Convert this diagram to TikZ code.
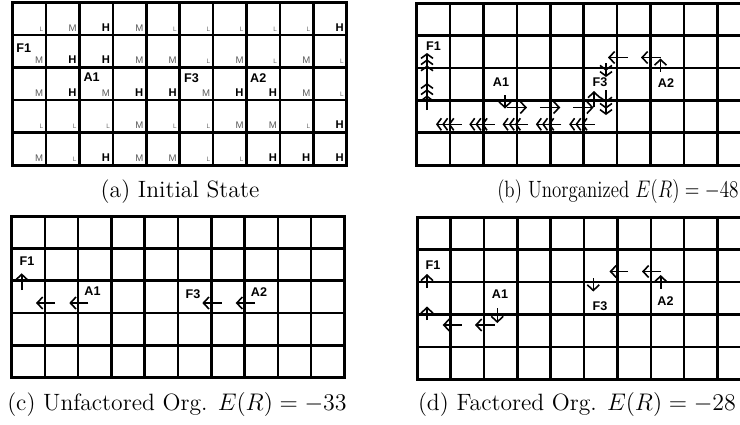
\documentclass[tikz,border=0pt]{standalone}
\usepackage{fontspec}
\newfontfamily\labfont{Liberation Sans}
\usetikzlibrary{arrows.meta}
\tikzset{
  gridline/.style={line width=1.25pt, black},
  gridframe/.style={line width=1.5pt, black, line join=miter},
  agentlabel/.style={font=\labfont\bfseries\fontsize{6.3}{7}\selectfont, inner sep=0pt},
  cellH/.style={font=\labfont\bfseries\fontsize{5.6}{6}\selectfont, inner sep=0pt, anchor=south east},
  cellM/.style={font=\labfont\fontsize{4.8}{5}\selectfont, text=black!65, inner sep=0pt, anchor=south east},
  cellL/.style={font=\labfont\fontsize{3.2}{4}\selectfont, text=black!60, inner sep=0pt, anchor=south east},
  mv/.style={line width=0.8pt, -{Straight Barb[length=2.8pt,width=6pt]}},
  mvtwo/.style={line width=0.8pt, -{Straight Barb[length=2.2pt,width=6pt] Straight Barb[length=2.2pt,width=6pt]}},
  mvthree/.style={line width=0.8pt, -{Straight Barb[length=2.2pt,width=6pt] Straight Barb[length=2.2pt,width=6pt] Straight Barb[length=2.2pt,width=6pt]}},
  captext/.style={font=\fontsize{11.8}{14}\selectfont, inner sep=0pt, anchor=base},
}
\newcommand{\drawgrid}[4]{%
  \foreach \i in {1,...,9} \draw[gridline] ({#1+#3*\i},#2) -- ({#1+#3*\i},{#2+5*#4});
  \foreach \j in {1,...,4} \draw[gridline] (#1,{#2+#4*\j}) -- ({#1+10*#3},{#2+#4*\j});
  \draw[gridframe] (#1,#2) rectangle ({#1+10*#3},{#2+5*#4});
}
\newcommand{\cellrow}[2]{%
  \foreach \t [count=\c] in {#2}
    \node[cell\t] (a-#1-\c) at ({12.7+33.4*\c-2.6},{2.7+32.46*#1-3.4}) {\t};
}
\begin{document}
\begin{tikzpicture}[x=0.5pt,y=-0.5pt]
\useasboundingbox (0,0) rectangle (740,424);
\clip (0,0) rectangle (740,424);

% ---------- (a) initial state ----------
\drawgrid{12.7}{2.7}{33.4}{32.46}
\cellrow{1}{L,M,H,M,L,L,L,L,L,H}
\cellrow{2}{M,H,H,M,M,L,M,L,M,L}
\cellrow{3}{M,H,M,H,H,M,H,H,M,L}
\cellrow{4}{L,L,L,M,L,L,M,M,L,H}
\cellrow{5}{M,L,H,M,M,L,L,H,H,H}
\node[agentlabel] (aF1) at (23.7,48) {F1};
\node[agentlabel] (aA1) at (91.6,77.2) {A1};
\node[agentlabel] (aF3) at (191.6,78.5) {F3};
\node[agentlabel] (aA2) at (258.3,77.8) {A2};
\node[captext] (capa) at (180,197) {(a) Initial State};

% ---------- (b) unorganized ----------
\drawgrid{416.7}{3.3}{33.4}{32.34}
\node[agentlabel] (bF1) at (433.5,46) {F1};
\node[agentlabel] (bA1) at (501,82.5) {A1};
\node[agentlabel] (bF3) at (600,82.5) {F3};
\node[agentlabel] (bA2) at (666,83) {A2};
\draw[mvthree] (427,110) -- (427,83);
\draw[mvthree] (427,97) -- (427,53);
\foreach \k in {0,...,4}
  \draw[mvthree] ({461.5+33.3*\k},124.3) -- ({436+33.3*\k},124.3);
\draw[mv] (505,95) -- (505,108.5);
\foreach \k in {0,1,2}
  \draw[mv] ({506.5+33.3*\k},107.5) -- ({527+33.3*\k},107.5);
\draw[mv] (594,106.5) -- (594,91);
\draw[mvtwo] (606,63) -- (606,77);
\draw[mvthree] (606,90) -- (606,115);
\draw[mv] (627.5,57.5) -- (608,57.5);
\draw[mv] (660.5,57.5) -- (641,57.5);
\draw[mv] (660.5,71.5) -- (660.5,58.5);
\node[captext, anchor=base east] (capb) at (739,197) {\scalebox{0.8}[1]{(b) Unorganized $E(R) = -48$}};

% ---------- (c) unfactored organization ----------
\drawgrid{11.7}{216}{33.26}{32.34}
\node[agentlabel] (cF1) at (27,261) {F1};
\node[agentlabel] (cA1) at (92.5,291.5) {A1};
\node[agentlabel] (cF3) at (193,294.5) {F3};
\node[agentlabel] (cA2) at (259,292) {A2};
\draw[mv] (21.7,290) -- (21.7,273.3);
\draw[mv] (55,303) -- (36,303);
\draw[mv] (88.3,303) -- (69.3,303);
\draw[mv] (221.7,303) -- (202.3,303);
\draw[mv] (255,303) -- (235.7,303);
\node[captext] (capc) at (177,410) {(c) Unfactored Org. $E(R) = -33$};

% ---------- (d) factored organization ----------
\drawgrid{417.3}{217.3}{33.35}{32.4}
\node[agentlabel] (dF1) at (433,265.5) {F1};
\node[agentlabel] (dA1) at (500,294) {A1};
\node[agentlabel] (dF3) at (600,306) {F3};
\node[agentlabel] (dA2) at (665.5,301) {A2};
\draw[mv] (427,288) -- (427,274);
\draw[mv] (427,320) -- (427,306.5);
\draw[mv] (461.7,325) -- (442.7,325);
\draw[mv] (495,325) -- (475,325);
\draw[mv] (497.3,308) -- (497.3,323);
\draw[mv] (593.3,278) -- (593.3,291.5);
\draw[mv] (628,271.5) -- (609.5,271.5);
\draw[mv] (661,271.5) -- (642,271.5);
\draw[mv] (660.7,288.5) -- (660.7,275);
\node[captext] (capd) at (577,410) {(d) Factored Org. $E(R) = -28$};
\end{tikzpicture}
\end{document}
